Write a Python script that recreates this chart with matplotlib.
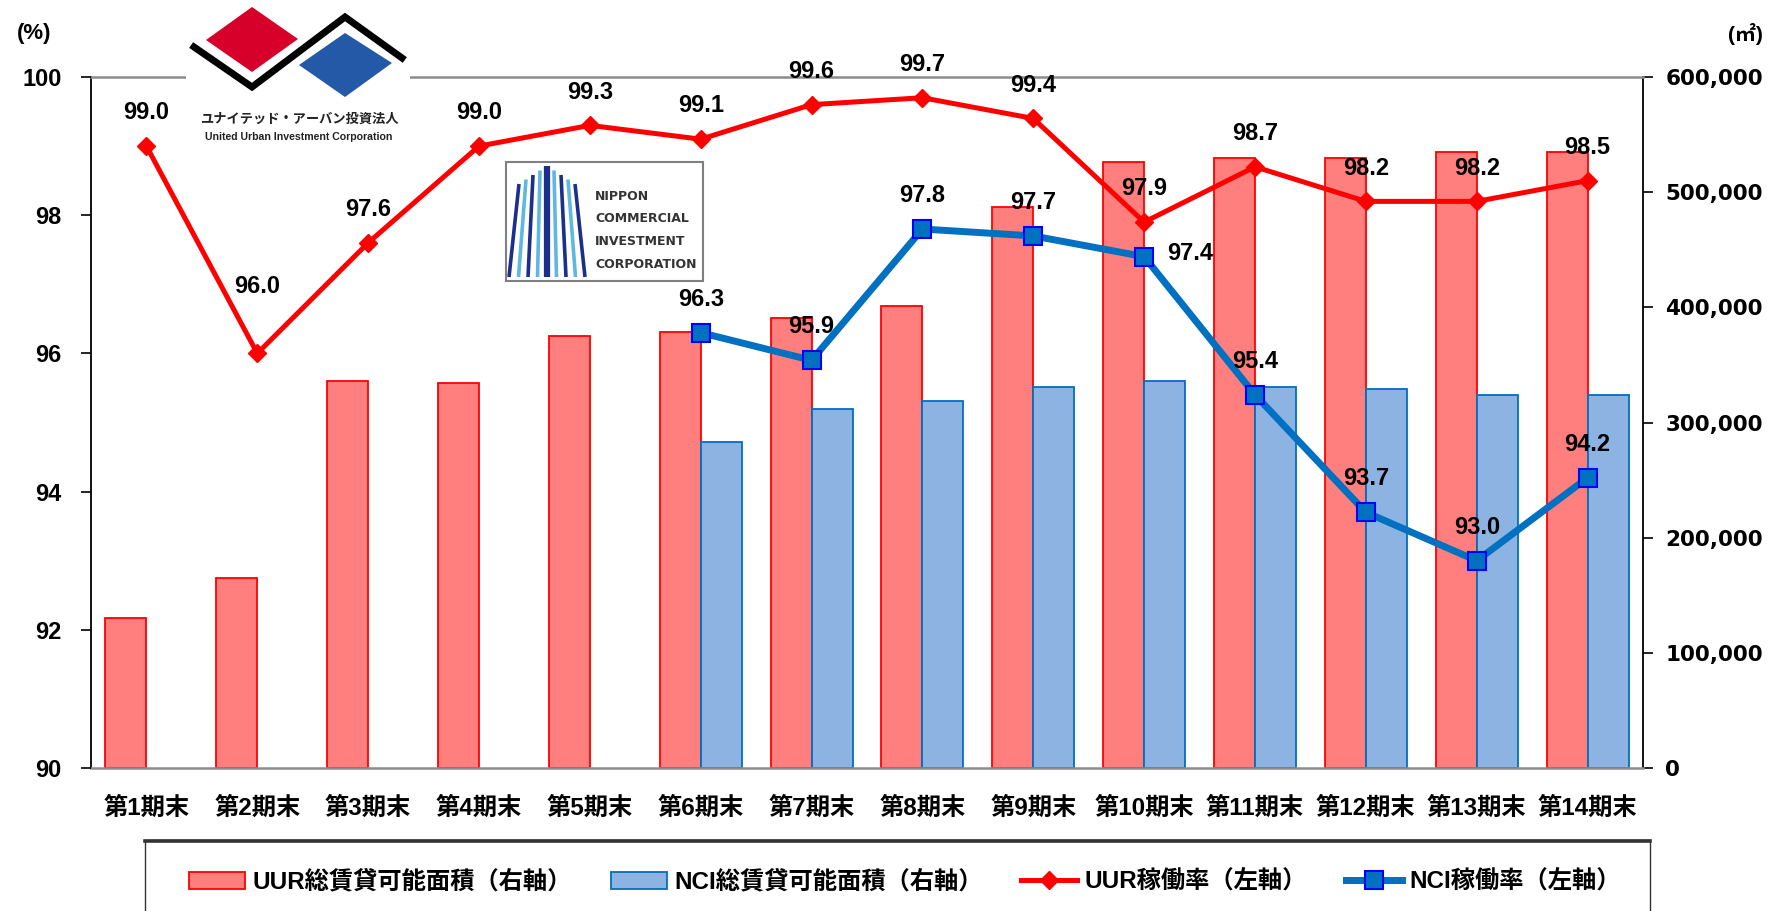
import numpy as np
import matplotlib
matplotlib.use("Agg")
import matplotlib.pyplot as plt
from matplotlib.patches import Polygon, Rectangle, Patch
from matplotlib.lines import Line2D

# 決算期ごとの総賃貸可能面積(㎡)と稼働率(%)
periods = ["第1期末", "第2期末", "第3期末", "第4期末", "第5期末", "第6期末", "第7期末",
           "第8期末", "第9期末", "第10期末", "第11期末", "第12期末", "第13期末", "第14期末"]
uur_area = [130600, 164800, 336000, 334500, 375300, 378700, 390600,
            401300, 486700, 526200, 529700, 529700, 534900, 534900]
uur_rate = [99.0, 96.0, 97.6, 99.0, 99.3, 99.1, 99.6, 99.7, 99.4, 97.9, 98.7, 98.2, 98.2, 98.5]
# NCIは第6期末から
nci_periods = periods[5:]
nci_area = [282800, 311900, 318900, 330800, 336000, 331000, 329300, 324100, 324100]
nci_rate = [96.3, 95.9, 97.8, 97.7, 97.4, 95.4, 93.7, 93.0, 94.2]

JP = ["Noto Sans CJK JP"]
MIX = ["Liberation Sans", "Noto Sans CJK JP"]

W, H = 1769, 911
fig = plt.figure(figsize=(W / 100, H / 100), dpi=100)


def fx(px):
    return px / W


def fy(py):
    return 1 - py / H


L, R, T, B = 91, 1643, 77, 768
ax = fig.add_axes([fx(L), fy(B), fx(R) - fx(L), fy(T) - fy(B)])
axl = ax.twinx()  # 稼働率(左軸)

x = np.arange(len(periods))
xn = np.array([periods.index(p) for p in nci_periods])
bw = 0.37

# 面積(右軸)
ax.bar(x - bw / 2, uur_area, bw, color="#FF7F7F", edgecolor="#FF0000", linewidth=1.3)
ax.bar(xn + bw / 2, nci_area, bw, color="#8DB3E2", edgecolor="#0070C0", linewidth=1.3)
ax.set_xlim(-0.5, len(periods) - 0.5)
ax.set_ylim(0, 600000)
area_ticks = np.arange(0, 600001, 100000)
ax.set_yticks(area_ticks, labels=[f"{v:,.0f}" for v in area_ticks],
              fontfamily="DejaVu Sans", fontweight="bold", fontsize=15.5)
ax.tick_params(axis="y", left=False, labelleft=False, right=True, labelright=True,
               direction="out", length=7, width=1.2, pad=9)
ax.set_xticks(x)
ax.set_xticklabels(periods, fontfamily=MIX, fontweight="bold", fontsize=17.5)
ax.tick_params(axis="x", length=0, pad=21)

for side in ["left", "right"]:
    ax.spines[side].set_color("black")
    ax.spines[side].set_linewidth(1.3)
for side in ["top", "bottom"]:
    ax.spines[side].set_color("#8C8C8C")
    ax.spines[side].set_linewidth(1.8)

axl.set_ylim(90, 100)
rate_ticks = np.arange(90, 101, 2)
axl.set_yticks(rate_ticks, labels=[str(v) for v in rate_ticks],
               fontfamily="Liberation Sans", fontweight="bold", fontsize=17)
axl.tick_params(axis="y", left=True, labelleft=True, right=False, labelright=False,
                direction="out", length=7, width=1.2, pad=14)
for s in axl.spines.values():
    s.set_visible(False)

axl.plot(x, uur_rate, color="#FF0000", lw=3.6, marker="D", ms=9.5,
         mfc="#FF0000", mec="#FF0000", zorder=3)
axl.plot(xn, nci_rate, color="#0070C0", lw=5, marker="s", ms=12.5,
         mfc="#0070C0", mec="#0000FF", mew=1.5, zorder=4)

lbl = dict(textcoords="offset points", ha="center", va="center",
           fontsize=17, fontweight="bold", fontfamily="Liberation Sans", zorder=5)
for i, v in enumerate(uur_rate):
    dy = 48 if i == 1 else 24
    axl.annotate(f"{v:.1f}", (x[i], v), xytext=(0, dy), **lbl)
for i, v in enumerate(nci_rate):
    off = (33, 2) if nci_periods[i] == "第10期末" else (0, 24)
    axl.annotate(f"{v:.1f}", (xn[i], v), xytext=off, **lbl)

fig.text(fx(34), fy(34), "(%)", ha="center", va="center", fontsize=16,
         fontweight="bold", fontfamily=MIX)
fig.text(fx(1763), fy(34), "(㎡)", ha="right", va="center", fontsize=15,
         fontweight="bold", fontfamily=MIX)


# ロゴ
def fig_poly(pts, **kw):
    fig.add_artist(Polygon([(fx(a), fy(b)) for a, b in pts], closed=True,
                           transform=fig.transFigure, **kw))


fig.add_artist(Rectangle((fx(186), fy(150)), fx(410) - fx(186), fy(0) - fy(150),
                         transform=fig.transFigure, facecolor="white", edgecolor="none"))
fig_poly([(206, 40), (252, 7), (298, 39), (252, 72)], facecolor="#D7002A", edgecolor="none")
fig_poly([(299, 65), (345, 33), (392, 63), (345, 97)], facecolor="#2459A8", edgecolor="none")
fig.add_artist(Line2D([fx(194), fx(252), fx(345), fx(402)], [fy(47), fy(87), fy(17), fy(58)],
                      transform=fig.transFigure, color="black", lw=5, solid_joinstyle="miter"))
fig.text(fx(299), fy(119), "ユナイテッド・アーバン投資法人", ha="center", va="center",
         fontsize=9.5, fontweight="bold", fontfamily=JP, color="#222222")
fig.text(fx(299), fy(137), "United Urban Investment Corporation", ha="center", va="center",
         fontsize=7.6, fontweight="bold", fontfamily="Liberation Sans", color="#222222")

fig.add_artist(Rectangle((fx(506), fy(281)), fx(703) - fx(506), fy(162) - fy(281),
                         transform=fig.transFigure, facecolor="white", edgecolor="#808080", lw=1.5))
for k in range(-4, 5):
    top_y = 166 + abs(k) * 4.5
    col = "#1B2F8C" if k % 2 == 0 else "#5FB8E0"
    fig.add_artist(Line2D([fx(547 + k * 7), fx(547 + k * 9.5)], [fy(top_y), fy(277)],
                          transform=fig.transFigure, color=col,
                          lw=4.5 if k == 0 else 2.6, solid_capstyle="butt"))
for j, word in enumerate(["NIPPON", "COMMERCIAL", "INVESTMENT", "CORPORATION"]):
    fig.text(fx(595), fy(196 + j * 22.8), word, ha="left", va="center", fontsize=9,
             fontweight="bold", fontfamily="DejaVu Sans", color="#333333")

# 凡例
fig.add_artist(Rectangle((fx(145), fy(930)), fx(1650) - fx(145), fy(840) - fy(930),
                         transform=fig.transFigure, facecolor="none", edgecolor="#333333", lw=1))
fig.add_artist(Line2D([fx(145), fx(1650)], [fy(840.5), fy(840.5)], transform=fig.transFigure,
                      color="#333333", lw=2.6))
handles = [
    Patch(facecolor="#FF7F7F", edgecolor="#FF0000", lw=1.3),
    Patch(facecolor="#8DB3E2", edgecolor="#0070C0", lw=1.3),
    Line2D([], [], color="#FF0000", lw=3.6, marker="D", ms=9.5, mfc="#FF0000", mec="#FF0000"),
    Line2D([], [], color="#0070C0", lw=5, marker="s", ms=12.5, mfc="#0070C0", mec="#0000FF", mew=1.5),
]
labels = ["UUR総賃貸可能面積（右軸）", "NCI総賃貸可能面積（右軸）", "UUR稼働率（左軸）", "NCI稼働率（左軸）"]
fig.legend(handles, labels, loc="center", bbox_to_anchor=(fx(905), fy(882)), ncol=4,
           frameon=False, prop={"family": MIX, "weight": "bold", "size": 17.5},
           handlelength=2.3, handleheight=0.7, handletextpad=0.3, columnspacing=1.6)

fig.savefig("out.png", dpi=100)
